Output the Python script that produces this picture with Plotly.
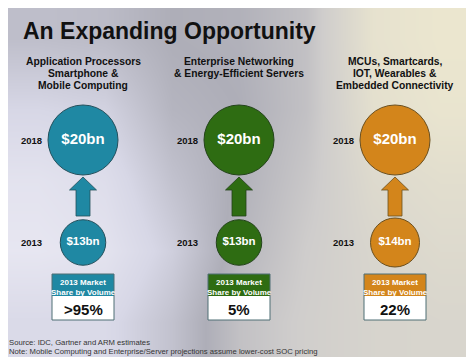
import plotly.graph_objects as go

# ---- data ----
segments = [
    ["Application Processors", "Smartphone &", "Mobile Computing"],
    ["Enterprise Networking", "& Energy-Efficient Servers"],
    ["MCUs, Smartcards,", "IOT, Wearables &", "Embedded Connectivity"],
]
years = ["2013", "2018"]
market_2013 = [13, 13, 14]   # $bn
market_2018 = [20, 20, 20]   # $bn
share_2013 = [">95%", "5%", "22%"]
title = "An Expanding Opportunity"
notes = ["Source: IDC, Gartner and ARM estimates",
         "Note: Mobile Computing and Enterprise/Server projections assume lower-cost SOC pricing"]

# ---- style ----
W, H = 474, 363
OFF = 8  # page body margin
FONT = "Liberation Sans, Arial, sans-serif"
fills = ["#1f88a3", "#2e6c12", "#d3851b"]
edges = ["#24505c", "#23431a", "#6b5020"]
col_x = [83, 239, 395]
year_y = {"2018": 140, "2013": 242.5}
PX_PER_BN = 3.5

fig = go.Figure()

# background gradient
nx, ny = 7, 5
x0b, x1b, y0b, y1b = 4, 474, 4, 357
dx = (x1b - x0b) / nx
dy = (y1b - y0b) / ny
bx = [x0b + (i + 0.5) * dx for i in range(nx)]
by = [y0b + (j + 0.5) * dy for j in range(ny)]
bz = [
    [0.40, 0.42, 0.50, 0.52, 0.62, 0.95, 1.0],
    [0.25, 0.28, 0.46, 0.50, 0.62, 0.92, 0.98],
    [0.12, 0.18, 0.38, 0.52, 0.66, 0.85, 0.9],
    [0.08, 0.12, 0.30, 0.55, 0.70, 0.80, 0.85],
    [0.22, 0.22, 0.38, 0.62, 0.72, 0.78, 0.8],
]
fig.add_trace(go.Heatmap(
    x=bx, y=by, z=bz, zsmooth="best", showscale=False, hoverinfo="skip",
    zmin=0, zmax=1,
    colorscale=[[0.0, "#eeedf6"], [0.25, "#d7d7e6"], [0.5, "#aeaeb8"],
                [0.7, "#cfcdcc"], [1.0, "#ebe6cf"]],
))

# circles (diameter proportional to market size)
for yr, vals in (("2018", market_2018), ("2013", market_2013)):
    fig.add_trace(go.Scatter(
        x=col_x, y=[year_y[yr]] * 3, mode="markers+text",
        marker=dict(size=[v * PX_PER_BN for v in vals], color=fills,
                    line=dict(color=edges, width=1), opacity=1),
        text=[f"${v}bn" for v in vals], textposition="middle center",
        textfont=dict(family=FONT, size=15 if yr == "2018" else 11.5,
                      color="white", weight="bold"),
        hoverinfo="skip", showlegend=False,
    ))

shapes = []
ann = []
for i, cx in enumerate(col_x):
    # arrow
    path = (f"M {cx} 177 L {cx+13.5} 190 L {cx+7} 190 L {cx+7} 216 "
            f"L {cx-7} 216 L {cx-7} 190 L {cx-13.5} 190 Z")
    shapes.append(dict(type="path", path=path, fillcolor=fills[i],
                       line=dict(color=edges[i], width=0.8), layer="above"))
    # share box
    shapes.append(dict(type="rect", x0=cx - 31, x1=cx + 31, y0=274, y1=296,
                       fillcolor=fills[i], line=dict(width=0), layer="above"))
    shapes.append(dict(type="rect", x0=cx - 31, x1=cx + 31, y0=296, y1=320,
                       fillcolor="white", line=dict(width=0), layer="above"))
    shapes.append(dict(type="rect", x0=cx - 31, x1=cx + 31, y0=274, y1=320,
                       fillcolor="rgba(0,0,0,0)",
                       line=dict(color="#4f6e74", width=1), layer="above"))
    ann.append(dict(x=cx, y=282, text="2013 Market", showarrow=False,
                    font=dict(family=FONT, size=8, color="white", weight="bold")))
    ann.append(dict(x=cx, y=292, text="Share by Volume", showarrow=False,
                    font=dict(family=FONT, size=8, color="white", weight="bold")))
    ann.append(dict(x=cx, y=309, text=share_2013[i], showarrow=False,
                    font=dict(family=FONT, size=15, color="#111", weight="bold")))
    # year labels
    for yr in years:
        ann.append(dict(x=cx - 39, y=year_y[yr], text=yr, showarrow=False,
                        xanchor="right",
                        font=dict(family=FONT, size=9.5, color="#111", weight="bold")))
    # segment headers
    lines = segments[i]
    ys = [61, 73, 85] if len(lines) == 3 else [61, 73]
    for ln, yy in zip(lines, ys):
        ann.append(dict(x=cx, y=yy, text=ln, showarrow=False,
                        font=dict(family=FONT, size=10.3, color="#111", weight="bold")))

ann.append(dict(x=21, y=31, text=title, showarrow=False, xanchor="left",
                font=dict(family=FONT, size=23, color="#111", weight="bold")))
for t, yy in zip(notes, [342, 351]):
    ann.append(dict(x=10, y=yy, xshift=-3, text=t, showarrow=False, xanchor="left",
                    font=dict(family=FONT, size=7.7, color="#333")))

fig.update_layout(
    width=W - OFF, height=H - OFF, margin=dict(l=0, r=0, t=0, b=0),
    paper_bgcolor="white", plot_bgcolor="white",
    xaxis=dict(range=[OFF, W], visible=False, fixedrange=True),
    yaxis=dict(range=[H, OFF], visible=False, fixedrange=True),
    shapes=shapes, annotations=ann, showlegend=False,
)
fig.write_html("out.html")
